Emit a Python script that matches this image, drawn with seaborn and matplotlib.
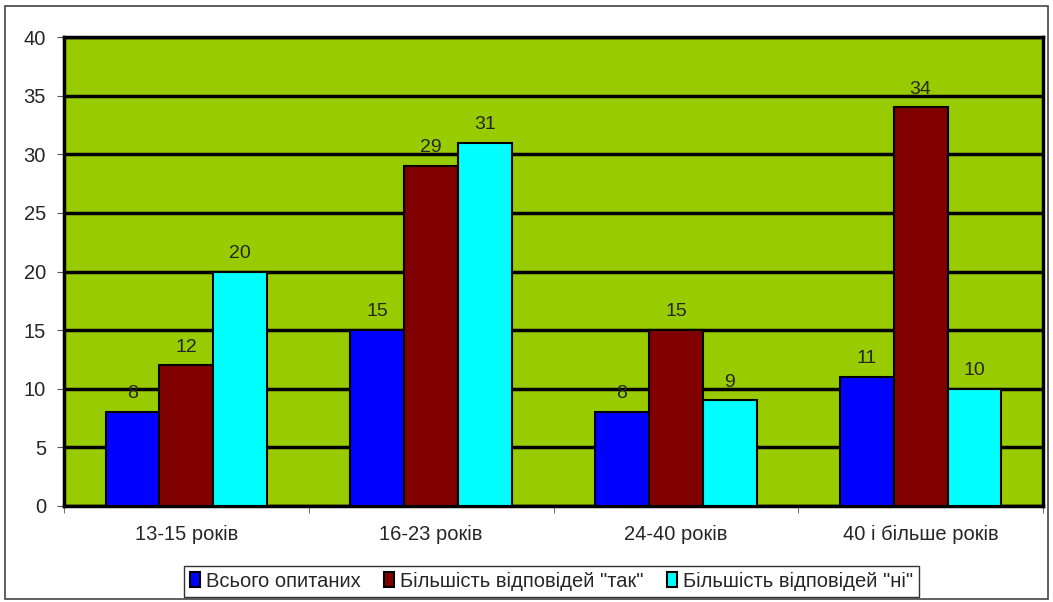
import pandas as pd
import seaborn as sns
import matplotlib.pyplot as plt
from matplotlib.patches import Rectangle

categories = ['13-15 років', '16-23 років', '24-40 років', '40 і більше років']
series = ['Всього опитаних', 'Більшість відповідей "так"', 'Більшість відповідей "ні"']
total = [8, 15, 8, 11]
yes = [12, 29, 15, 34]
no = [20, 31, 9, 10]
colors = ['#0000FF', '#800000', '#00FFFF']

rows = []
for name, vals in zip(series, [total, yes, no]):
    for c, v in zip(categories, vals):
        rows.append({'category': c, 'series': name, 'value': v})
df = pd.DataFrame(rows)

sns.set_style('white')
plt.rcParams['font.family'] = ['Liberation Sans', 'DejaVu Sans']

fig = plt.figure(figsize=(10.53, 6.02), dpi=100)
ax = fig.add_axes([0.0608, 0.1595, 0.9297, 0.779])
ax.set_facecolor('#99CC00')

sns.barplot(data=df, x='category', y='value', hue='series', palette=colors,
            width=0.66, edgecolor='black', linewidth=1.5, saturation=1,
            gap=0, ax=ax, zorder=3)

for cont in ax.containers:
    ax.bar_label(cont, fontsize=14, padding=7)

ax.set_ylim(0, 40)
ax.set_xlim(-0.5, 3.5)
ax.set_yticks(range(0, 41, 5))
ax.yaxis.grid(True, color='black', linewidth=2.5, zorder=0)
ax.set_axisbelow(True)
ax.set_xlabel('')
ax.set_ylabel('')
ax.tick_params(axis='y', labelsize=14.5, left=True, length=5, color='#555555', pad=8)
ax.tick_params(axis='x', labelsize=14.5, bottom=False, pad=10)
ax.set_xticks([-0.5, 0.5, 1.5, 2.5, 3.5], minor=True)
ax.tick_params(axis='x', which='minor', bottom=True, length=5, color='#555555')
for s in ax.spines.values():
    s.set_color('black')
    s.set_linewidth(2.5)

handles, labels = ax.get_legend_handles_labels()
ax.legend(handles, labels, loc='center', bbox_to_anchor=(0.524, 0.0345),
          bbox_transform=fig.transFigure, ncol=3, fontsize=14.5, frameon=True,
          fancybox=False, edgecolor='black', handlelength=0.5, handleheight=0.8,
          handletextpad=0.3, columnspacing=1.15, borderpad=0.3)
ax.get_legend().get_frame().set_linewidth(1)

fig.patches.append(Rectangle((0.005, 0.005), 0.99, 0.985, transform=fig.transFigure,
                             fill=False, edgecolor='#444444', linewidth=1.2))

fig.savefig('out.png', dpi=100)
